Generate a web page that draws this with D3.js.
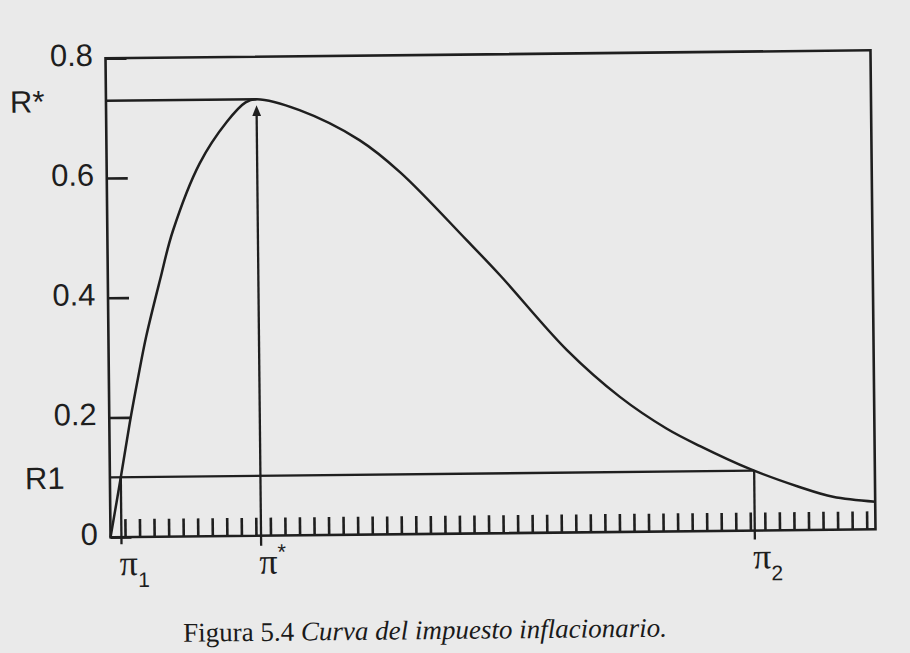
<!DOCTYPE html>
<html>
<head>
<meta charset="utf-8">
<script src="https://cdn.jsdelivr.net/npm/d3@7"></script>
<style>
  body { margin: 0; background: #eaeaea; }
</style>
</head>
<body>
<div id="chart"></div>
<script>
// curve of the inflation tax
var inflation = [0, 0.75, 1.4, 2.0, 2.6, 3.6, 4.5, 6.4, 8.3, 9.6, 10.35, 13.3, 17.4, 20.2, 24.7, 27.0, 31.5, 35.1, 38.3, 40.6, 44.0, 47.4, 49.7, 52.6];
var revenue   = [0, 0.10, 0.19, 0.265, 0.335, 0.43, 0.51, 0.623, 0.692, 0.724, 0.729, 0.710, 0.659, 0.604, 0.490, 0.430, 0.305, 0.226, 0.172, 0.142, 0.103, 0.072, 0.055, 0.046];

var yTicks = [0, 0.2, 0.4, 0.6, 0.8];
var yTickLabels = ["0", "0.2", "0.4", "0.6", "0.8"];
var xTicks = d3.range(1, 53);
var xMax = 52.6, yMax = 0.8;

// marked points
var piOne = 0.75, piStar = 10.35, piTwo = 44.3;
var rStar = 0.729, rOne = 0.1;

var captionNumber = "Figura 5.4 ";
var captionTitle = "Curva del impuesto inflacionario.";

// set the dimensions and margins of the graph
var margin = {top: 54.3, right: 37, bottom: 119.7, left: 108},
    width = 910 - margin.left - margin.right,
    height = 653 - margin.top - margin.bottom;

var ink = "#1f1f1f";

var root = d3.select("#chart")
    .append("svg")
    .attr("width", 910)
    .attr("height", 653);

root.append("rect")
    .attr("width", 910)
    .attr("height", 653)
    .attr("fill", "#eaeaea");

root.append("defs").append("marker")
    .attr("id", "arrow")
    .attr("viewBox", "0 0 11 9")
    .attr("markerUnits", "userSpaceOnUse")
    .attr("markerWidth", 11)
    .attr("markerHeight", 9)
    .attr("refX", 7)
    .attr("refY", 4.5)
    .attr("orient", "auto")
    .append("path")
    .attr("d", "M0,0 L11,4.5 L0,9 Z")
    .attr("fill", ink);

// the scan is a little crooked, so the whole figure is turned slightly
var svg = root.append("g")
    .attr("transform", "rotate(-0.6 490.5 294) translate(" + margin.left + "," + margin.top + ")");

var x = d3.scaleLinear().domain([0, xMax]).range([0, width]);
var y = d3.scaleLinear().domain([0, yMax]).range([height, 0]);

// X axis: short ticks standing on the base line
var xAxis = svg.append("g")
    .attr("transform", "translate(0," + height + ")")
    .call(d3.axisBottom(x).tickValues(xTicks).tickSize(-18).tickFormat(""));
xAxis.select(".domain").remove();
xAxis.selectAll("line")
    .attr("stroke", ink)
    .attr("stroke-width", 2.6);

// Y axis
var yAxis = svg.append("g")
    .call(d3.axisLeft(y)
        .tickValues(yTicks)
        .tickSize(-21)
        .tickPadding(12.5)
        .tickFormat(function (d, i) { return yTickLabels[i]; }));
yAxis.select(".domain").remove();
yAxis.selectAll("line")
    .attr("stroke", ink)
    .attr("stroke-width", 2.6);
yAxis.selectAll("text")
    .attr("dy", "0.22em")
    .style("font-family", "'Liberation Sans', Arial, sans-serif")
    .style("font-size", "31px")
    .style("fill", "#1e1e1e");

// frame
svg.append("rect")
    .attr("x", x(0))
    .attr("y", y(yMax))
    .attr("width", x(xMax) - x(0))
    .attr("height", y(0) - y(yMax))
    .attr("fill", "none")
    .attr("stroke", ink)
    .attr("stroke-width", 2.6);

// guide lines
svg.append("line")
    .attr("x1", x(0)).attr("x2", x(piStar))
    .attr("y1", y(rStar)).attr("y2", y(rStar))
    .attr("stroke", ink).attr("stroke-width", 2.5);

svg.append("line")
    .attr("x1", x(0)).attr("x2", x(piTwo))
    .attr("y1", y(rOne)).attr("y2", y(rOne))
    .attr("stroke", ink).attr("stroke-width", 2.3);

svg.append("line")
    .attr("x1", x(piOne)).attr("x2", x(piOne))
    .attr("y1", y(0) + 7).attr("y2", y(rOne))
    .attr("stroke", ink).attr("stroke-width", 2.3);

svg.append("line")
    .attr("x1", x(piTwo)).attr("x2", x(piTwo))
    .attr("y1", y(0) + 9).attr("y2", y(rOne))
    .attr("stroke", ink).attr("stroke-width", 2.3);

svg.append("line")
    .attr("x1", x(piStar)).attr("x2", x(piStar))
    .attr("y1", y(0) + 10).attr("y2", y(rStar) + 10)
    .attr("stroke", ink).attr("stroke-width", 2.3)
    .attr("marker-end", "url(#arrow)");

// the curve
var points = inflation.map(function (d, i) { return [d, revenue[i]]; });
svg.append("path")
    .datum(points)
    .attr("fill", "none")
    .attr("stroke", ink)
    .attr("stroke-width", 2.5)
    .attr("d", d3.line()
        .x(function (d) { return x(d[0]); })
        .y(function (d) { return y(d[1]); })
        .curve(d3.curveCatmullRom.alpha(0.5)));

// labels on the left
var sans = "'Liberation Sans', Arial, sans-serif";
svg.append("text")
    .attr("x", -96).attr("y", y(rStar))
    .attr("dy", "0.35em")
    .style("font-family", sans).style("font-size", "31px").style("fill", "#1e1e1e")
    .text("R*");
svg.append("text")
    .attr("x", -85).attr("y", y(rOne))
    .attr("dy", "0.35em")
    .style("font-family", sans).style("font-size", "31px").style("fill", "#1e1e1e")
    .text("R1");

// pi labels under the axis
function piLabel(value, mark, isSub) {
    var t = svg.append("text")
        .attr("x", x(value) - 2)
        .attr("y", height + 38)
        .style("fill", "#1e1e1e");
    t.append("tspan")
        .style("font-family", "'Liberation Serif', 'Times New Roman', serif")
        .style("font-size", "36px")
        .text("\u03c0");
    t.append("tspan")
        .attr("dy", isSub ? 12 : -14)
        .style("font-family", sans)
        .style("font-size", isSub ? "21px" : "22px")
        .text(mark);
}
piLabel(piOne, "1", true);
piLabel(piStar, "*", false);
piLabel(piTwo, "2", true);

// caption
var cap = svg.append("text")
    .attr("x", 71.6)
    .attr("y", 584.2)
    .style("font-family", "'Liberation Serif', 'Times New Roman', serif")
    .style("font-size", "27px")
    .style("fill", "#1a1a1a");
cap.append("tspan").text(captionNumber);
cap.append("tspan").style("font-style", "italic").text(captionTitle);
</script>
</body>
</html>
